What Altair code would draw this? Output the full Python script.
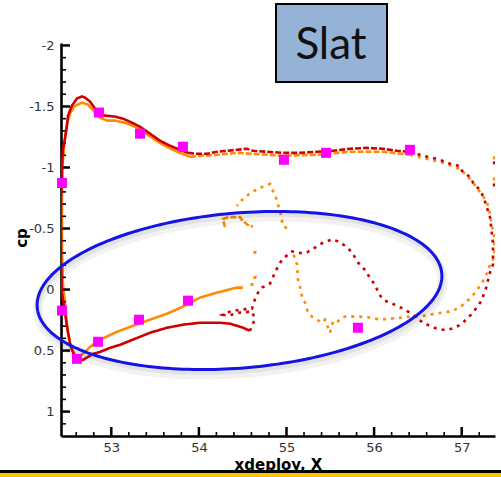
import numpy as np
import pandas as pd
import altair as alt

# ---------------- data ----------------
# red run: dense leading-edge part, dotted upper surface, sparse trailing/cove part
red_solid_x = [54.583, 54.503, 54.435, 54.355, 54.241, 54.127, 54.013, 53.818, 53.636, 53.442,
               53.328, 53.213, 53.099, 52.985, 52.871, 52.791, 52.734, 52.677, 52.620, 52.586,
               52.551, 52.529, 52.506, 52.471, 52.437, 52.426, 52.426, 52.426, 52.437, 52.437,
               52.449, 52.471, 52.494, 52.506, 52.551, 52.608, 52.665, 52.700, 52.757, 52.814,
               52.871, 52.928, 53.042, 53.134, 53.236, 53.328, 53.442, 53.556, 53.670, 53.784,
               53.876]
red_solid_cp = [0.338, 0.313, 0.297, 0.280, 0.272, 0.272, 0.272, 0.288, 0.313, 0.354,
                0.387, 0.420, 0.453, 0.478, 0.511, 0.527, 0.552, 0.577, 0.568, 0.552,
                0.494, 0.437, 0.354, 0.189, 0.025, -0.247, -0.494, -0.741, -0.906, -1.013,
                -1.153, -1.236, -1.343, -1.425, -1.507, -1.565, -1.582, -1.573, -1.540, -1.483,
                -1.442, -1.425, -1.417, -1.400, -1.367, -1.334, -1.277, -1.219, -1.178, -1.145,
                -1.120]

red_dense_x = [53.876, 53.978, 54.093, 54.207, 54.321, 54.435, 54.549, 54.617, 54.777, 54.960,
               55.154, 55.348, 55.531, 55.724, 55.918, 56.101, 56.261, 56.409]
red_dense_cp = [-1.120, -1.112, -1.112, -1.129, -1.137, -1.145, -1.153, -1.137, -1.129, -1.120,
                -1.120, -1.129, -1.137, -1.153, -1.161, -1.153, -1.137, -1.129]

red_sparse_x = [56.409, 56.557, 56.717, 56.785, 56.900, 56.980, 57.003, 57.037, 57.117, 57.129,
                57.197, 57.231, 57.277, 57.300, 57.323, 57.357, 57.357, 57.323, 57.277, 57.220,
                57.152, 57.106, 57.060, 57.003, 56.923, 56.843, 56.785, 56.717, 56.637, 56.557,
                56.443, 56.352, 56.261, 56.181, 56.124, 56.090, 56.044, 56.010, 55.953, 55.918,
                55.861, 55.815, 55.781, 55.747, 55.690, 55.644, 55.588, 55.519, 55.462, 55.405,
                55.348, 55.291, 55.234, 55.177, 55.120, 55.063, 55.006, 54.949, 54.880, 54.812,
                54.720, 54.675, 54.629, 54.606, 54.469, 54.355, 54.275, 54.332, 54.469, 54.606,
                54.640, 54.583]
red_sparse_cp = [-1.129, -1.096, -1.071, -1.054, -1.021, -1.013, -0.972, -0.956, -0.906, -0.873,
                 -0.824, -0.783, -0.700, -0.643, -0.593, -0.379, -0.206, -0.140, -0.008, 0.099,
                 0.165, 0.206, 0.239, 0.280, 0.313, 0.329, 0.329, 0.321, 0.297, 0.272,
                 0.206, 0.165, 0.132, 0.107, 0.091, 0.074, 0.016, -0.041, -0.091, -0.140,
                 -0.189, -0.222, -0.264, -0.305, -0.346, -0.371, -0.395, -0.412, -0.395, -0.379,
                 -0.354, -0.329, -0.305, -0.297, -0.305, -0.313, -0.280, -0.247, -0.157, -0.049,
                 -0.016, 0.025, 0.099, 0.157, 0.165, 0.181, 0.206, 0.214, 0.189, 0.181,
                 0.239, 0.338]

red_iso_x = [57.372, 57.372]
red_iso_cp = [-1.038, -0.857]

# orange run
orange_solid_x = [54.503, 54.435, 54.207, 54.013, 53.818, 53.636, 53.442, 53.248, 53.065, 52.871,
                  52.757, 52.700, 52.643, 52.586, 52.529, 52.494, 52.471, 52.449, 52.437, 52.437,
                  52.437, 52.449, 52.471, 52.494, 52.529, 52.574, 52.665, 52.734, 52.814, 52.871,
                  52.951, 53.042, 53.156, 53.271, 53.385, 53.499, 53.613, 53.727, 53.841, 53.898]
orange_solid_cp = [-0.016, -0.016, 0.025, 0.066, 0.140, 0.198, 0.247, 0.297, 0.346, 0.412,
                   0.470, 0.511, 0.544, 0.535, 0.453, 0.288, 0.107, -0.041, -0.329, -0.741,
                   -0.906, -1.071, -1.236, -1.359, -1.442, -1.499, -1.532, -1.516, -1.450, -1.408,
                   -1.384, -1.384, -1.367, -1.334, -1.285, -1.227, -1.178, -1.137, -1.104, -1.087]

orange_dense_x = [53.898, 54.013, 54.207, 54.435, 54.617, 54.960, 55.348, 55.724, 56.101, 56.409]
orange_dense_cp = [-1.087, -1.096, -1.104, -1.120, -1.112, -1.096, -1.104, -1.129, -1.129, -1.104]

orange_sparse_x = [56.409, 56.557, 56.785, 56.980, 57.117, 57.231, 57.288, 57.323, 57.334, 57.372,
                   57.372, 57.334, 57.277, 57.220, 57.152, 57.106, 57.003, 56.923, 56.854, 56.785,
                   56.637, 56.523, 56.409, 56.295, 56.181, 56.067, 55.976, 55.838, 55.747, 55.667,
                   55.610, 55.576, 55.531, 55.496, 55.440, 55.405, 55.348, 55.291, 55.245, 55.211,
                   55.177, 55.154, 55.131, 55.120, 55.097, 55.074]
orange_sparse_cp = [-1.104, -1.079, -1.038, -0.990, -0.890, -0.775, -0.717, -0.620, -0.560, -0.437,
                    -0.264, -0.222, -0.115, -0.041, 0.025, 0.066, 0.132, 0.165, 0.181, 0.189,
                    0.206, 0.222, 0.222, 0.231, 0.239, 0.247, 0.231, 0.222, 0.222, 0.222,
                    0.239, 0.272, 0.264, 0.354, 0.247, 0.272, 0.247, 0.222, 0.189, 0.107,
                    0.058, -0.025, -0.082, -0.206, -0.247, -0.305]

orange_peak_x = [55.006, 54.960, 54.926, 54.892, 54.880, 54.812, 54.720, 54.663, 54.617, 54.572,
                 54.526, 54.458, 54.435]
orange_peak_cp = [-0.502, -0.519, -0.651, -0.717, -0.750, -0.865, -0.840, -0.824, -0.799, -0.783,
                  -0.750, -0.717, -0.684]

orange_hook_x = [54.298, 54.286, 54.275, 54.332, 54.389, 54.469, 54.503, 54.549, 54.583, 54.617]
orange_hook_cp = [-0.511, -0.544, -0.577, -0.593, -0.593, -0.593, -0.560, -0.535, -0.519, -0.519]

orange_iso_x = [54.640, 54.640, 54.606, 57.372, 57.372]
orange_iso_cp = [-0.305, -0.099, -0.041, -1.079, -0.906]

# magenta squares (experiment)
exp_x = [52.437, 52.860, 53.328, 53.818, 54.971, 55.451, 56.409,
         52.437, 52.608, 52.848, 53.316, 53.876, 55.815]
exp_cp = [-0.873, -1.450, -1.277, -1.170, -1.063, -1.120, -1.145,
          0.173, 0.568, 0.428, 0.247, 0.091, 0.313]

x_major = [53, 54, 55, 56, 57]
y_major = [-2, -1.5, -1, -0.5, 0, 0.5, 1]
x_minor = [float(v) for v in np.round(np.arange(52.6, 57.3, 0.2), 1) if v not in x_major]
y_minor = [float(v) for v in np.round(np.arange(-1.9, 1.15, 0.1), 1) if v not in y_major]

# ---------------- layout ----------------
LEFT, TOP, W, H = 61, 43, 434, 393
X_DOMAIN = [52.426, 57.38]
Y_DOMAIN = [-2.02, 1.2]

xscale = alt.Scale(domain=X_DOMAIN, nice=False, zero=False)
yscale = alt.Scale(domain=Y_DOMAIN, reverse=True, nice=False, zero=False)

RED = "#D00000"
ORANGE = "#FF8C00"

x_axis = alt.Axis(values=x_major, ticks=False, grid=False, domainWidth=2.6, domainColor="black",
                  labelFont="DejaVu Sans", labelFontSize=13, labelColor="#333",
                  labelPadding=5, labelExpr="'' + datum.value",
                  title="xdeploy, X", titleFont="DejaVu Sans", titleFontSize=15,
                  titleFontWeight="bold", titleColor="black", titleBaseline="alphabetic",
                  titleY=33)
y_axis = alt.Axis(values=y_major, ticks=False, grid=False, domainWidth=2.6, domainColor="black",
                  labelFont="DejaVu Sans", labelFontSize=13, labelColor="#333",
                  labelPadding=7, labelExpr="'' + datum.value",
                  title="cp", titleFont="DejaVu Sans", titleFontSize=15, titleFontWeight="bold",
                  titleColor="black", titleAngle=270, titleX=-40, titleY=H / 2 - 2,
                  titleBaseline="middle", titleAlign="center")


def X():
    return alt.X("x:Q", scale=xscale, axis=x_axis)


def Y():
    return alt.Y("cp:Q", scale=yscale, axis=y_axis)


def seg(series, style, sid, xs, cps):
    assert len(xs) == len(cps)
    return pd.DataFrame({"series": series, "style": style, "seg": sid,
                         "i": range(len(xs)), "x": xs, "cp": cps})


red_df = pd.concat([
    seg("red", "solid", "r1", red_solid_x, red_solid_cp),
    seg("red", "dense", "r2", red_dense_x, red_dense_cp),
    seg("red", "sparse", "r3", red_sparse_x, red_sparse_cp),
])
orange_df = pd.concat([
    seg("orange", "solid", "o1", orange_solid_x, orange_solid_cp),
    seg("orange", "dense", "o2", orange_dense_x, orange_dense_cp),
    seg("orange", "sparse", "o3", orange_sparse_x, orange_sparse_cp),
    seg("orange", "sparse", "o4", orange_peak_x, orange_peak_cp),
    seg("orange", "dense", "o5", orange_hook_x, orange_hook_cp),
])

dash = alt.StrokeDash("style:N", legend=None,
                      scale=alt.Scale(domain=["solid", "dense", "sparse"],
                                      range=[[1, 0], [6, 2], [3, 5]]))

orange_lines = alt.Chart(orange_df).mark_line(clip=True, strokeWidth=2.6, color=ORANGE).encode(
    x=X(), y=Y(), detail="seg:N", order="i:Q", strokeDash=dash)
red_lines = alt.Chart(red_df).mark_line(clip=True, strokeWidth=2.6, color=RED).encode(
    x=X(), y=Y(), detail="seg:N", order="i:Q", strokeDash=dash)

orange_pts = alt.Chart(pd.DataFrame({"x": orange_iso_x, "cp": orange_iso_cp})).mark_square(
    clip=True, size=9, color=ORANGE, opacity=1).encode(x=X(), y=Y())
red_pts = alt.Chart(pd.DataFrame({"x": red_iso_x, "cp": red_iso_cp})).mark_square(
    clip=True, size=9, color=RED, opacity=1).encode(x=X(), y=Y())

exp_pts = alt.Chart(pd.DataFrame({"x": exp_x, "cp": exp_cp})).mark_square(
    size=100, color="#FF00FF", opacity=1).encode(x=X(), y=Y())


# inward ticks
def vticks(vals, length, width):
    return alt.Chart(pd.DataFrame({"x": vals})).mark_rule(color="black", strokeWidth=width).encode(
        x=X(), y=alt.value(H), y2=alt.value(H - length))


def hticks(vals, length, width):
    return alt.Chart(pd.DataFrame({"cp": vals})).mark_rule(color="black", strokeWidth=width).encode(
        y=Y(), x=alt.value(0), x2=alt.value(length))


ticks = [vticks(x_major, 9, 2.5), vticks(x_minor, 4, 1.6),
         hticks(y_major, 9, 2.5), hticks(y_minor, 5, 1.6)]

# ellipse annotation (drawn in pixel geometry, mapped back to data units)
t = np.linspace(0, 2 * np.pi, 241)
phi = np.deg2rad(4.8)
ea, eb, ecx, ecy = 203, 77.5, 239.5, 290.5
epx = ecx + ea * np.cos(t) * np.cos(phi) + eb * np.sin(t) * np.sin(phi)
epy = ecy - ea * np.cos(t) * np.sin(phi) + eb * np.sin(t) * np.cos(phi)
ell_df = pd.DataFrame({
    "i": range(len(t)),
    "x": X_DOMAIN[0] + (epx - LEFT) / W * (X_DOMAIN[1] - X_DOMAIN[0]),
    "cp": Y_DOMAIN[0] + (epy - TOP) / H * (Y_DOMAIN[1] - Y_DOMAIN[0]),
})
shadow1 = alt.Chart(ell_df).mark_line(clip=False, color="black", opacity=0.05, strokeWidth=10,
                                      yOffset=5, xOffset=1).encode(x=X(), y=Y(), order="i:Q")
shadow2 = alt.Chart(ell_df).mark_line(clip=False, color="black", opacity=0.06, strokeWidth=5,
                                      yOffset=3, xOffset=1).encode(x=X(), y=Y(), order="i:Q")
ellipse = alt.Chart(ell_df).mark_line(clip=False, color="#1414E6", strokeWidth=3).encode(
    x=X(), y=Y(), order="i:Q")

# "Slat" label box
lab = pd.DataFrame({"label": ["Slat"]})
slat_box = alt.Chart(lab).mark_rect(clip=False, fill="#95B3D7", stroke="black", strokeWidth=2).encode(
    x=alt.value(276 - LEFT), x2=alt.value(387 - LEFT), y=alt.value(4 - TOP), y2=alt.value(82 - TOP))
slat_text = alt.Chart(lab).mark_text(clip=False, font="Lato", fontSize=44, color="#111",
                                     align="center", baseline="alphabetic").encode(
    text="label:N", x=alt.value(331 - LEFT), y=alt.value(59 - TOP))

# bottom band
band_black = alt.Chart(lab).mark_rect(clip=False, color="black").encode(
    x=alt.value(-LEFT), x2=alt.value(501 - LEFT), y=alt.value(470 - TOP), y2=alt.value(473 - TOP))
band_gold = alt.Chart(lab).mark_rect(clip=False, color="#FFC000").encode(
    x=alt.value(-LEFT), x2=alt.value(501 - LEFT), y=alt.value(473 - TOP), y2=alt.value(477 - TOP))

chart = alt.layer(
    orange_lines, *ticks, shadow1, shadow2, orange_pts, red_lines, red_pts, exp_pts, ellipse,
    slat_box, slat_text, band_black, band_gold,
).properties(
    width=W, height=H,
    padding={"left": LEFT, "top": TOP, "right": 501 - LEFT - W, "bottom": 477 - TOP - H},
    autosize=alt.AutoSizeParams(type="none"),
    background="white",
).configure_view(stroke=None)

chart.save("out.html", embed_options={"renderer": "svg", "actions": False})
